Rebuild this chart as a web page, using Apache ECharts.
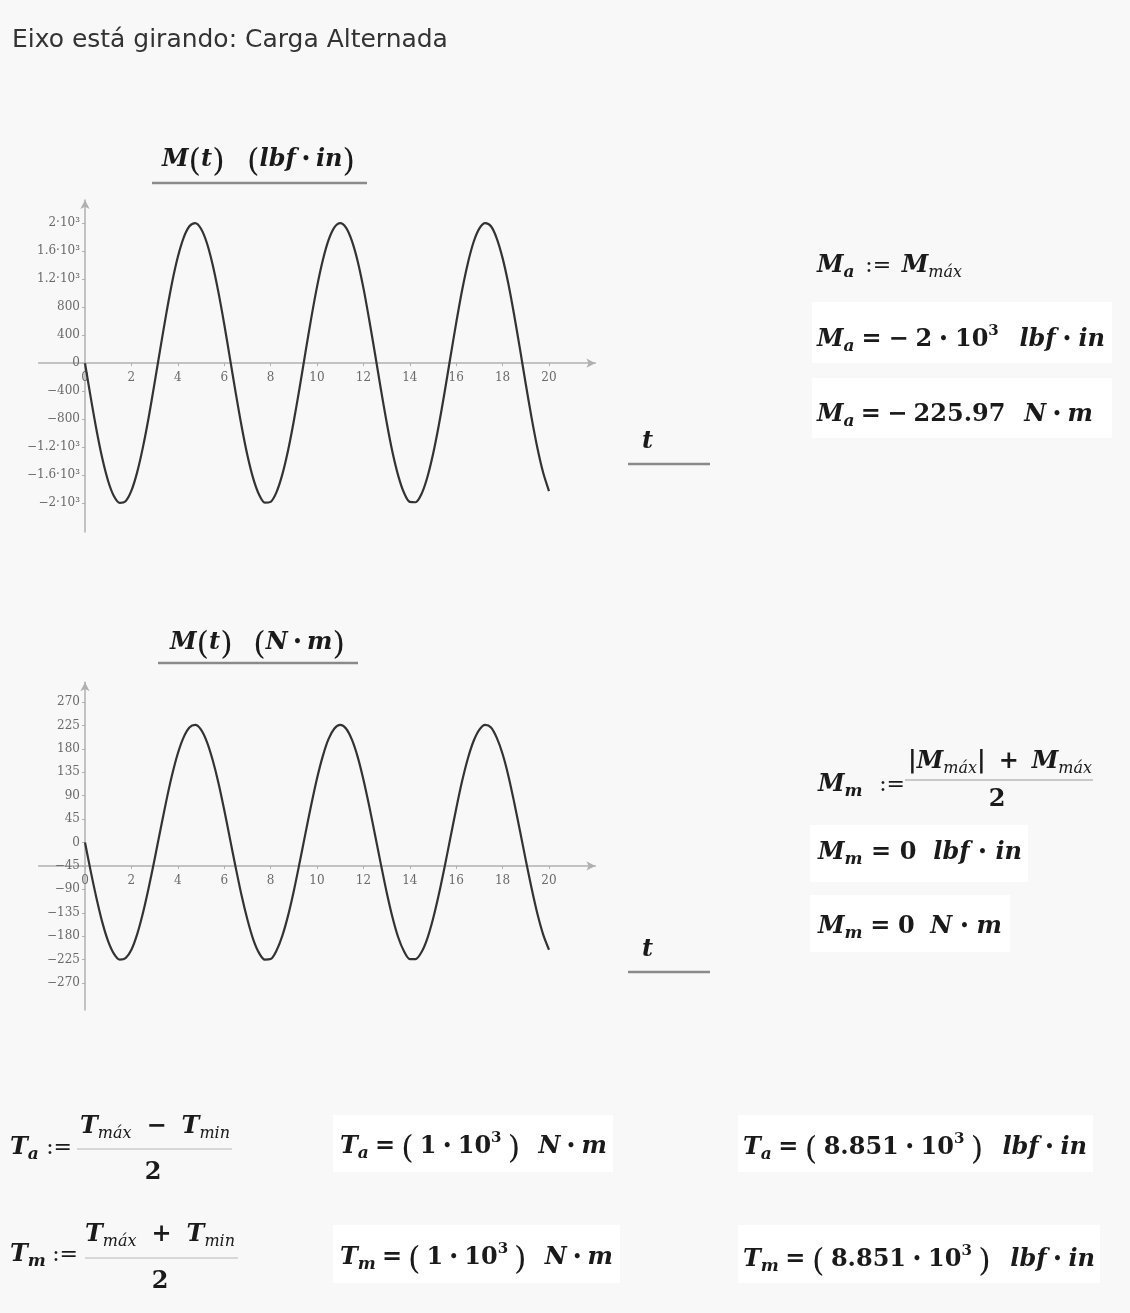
<!DOCTYPE html>
<html><head><meta charset="utf-8">
<script src="https://cdn.jsdelivr.net/npm/echarts@6/dist/echarts.min.js"></script>
<style>html,body{margin:0;padding:0;background:#f8f8f8;}#c{width:1130px;height:1313px;}</style>
</head><body><div id="c"></div>
<script>
// ---------------- data ----------------
const tValues = [0,0.25,0.5,0.75,1,1.25,1.5,1.75,2,2.25,2.5,2.75,3,3.25,3.5,3.75,4,4.25,4.5,4.75,5,5.25,5.5,5.75,6,6.25,6.5,6.75,7,7.25,7.5,7.75,8,8.25,8.5,8.75,9,9.25,9.5,9.75,10,10.25,10.5,10.75,11,11.25,11.5,11.75,12,12.25,12.5,12.75,13,13.25,13.5,13.75,14,14.25,14.5,14.75,15,15.25,15.5,15.75,16,16.25,16.5,16.75,17,17.25,17.5,17.75,18,18.25,18.5,18.75,19,19.25,19.5,19.75,20];
const momentLbfIn = [0,-495,-960,-1365,-1685,-1900,-1995,-1970,-1820,-1555,
  -1195,-765,-280,215,700,1145,1515,1790,1955,2000,
  1920,1720,1410,1015,560,65,-430,-900,-1315,-1645,
  -1875,-1990,-1980,-1845,-1595,-1250,-825,-350,150,640,
  1090,1470,1760,1940,2000,1935,1750,1460,1075,620,
  135,-365,-840,-1265,-1605,-1850,-1980,-1985,-1870,-1635,
  -1300,-885,-415,85,575,1035,1425,1730,1925,2000,
  1955,1780,1500,1130,685,200,-300,-780,-1210,-1565,
  -1825];
const momentNm = [0,-56,-108,-154,-190,-214,-225,-222,-206,-176,
  -135,-86,-32,24,79,129,171,202,221,226,
  217,194,159,115,63,7,-49,-102,-148,-186,
  -212,-225,-224,-208,-180,-141,-93,-39,17,72,
  123,166,199,219,226,219,198,165,121,70,
  15,-41,-95,-143,-182,-209,-224,-224,-211,-185,
  -147,-100,-47,9,65,117,161,195,217,226,
  221,201,170,128,77,22,-34,-88,-137,-177,
  -206];
const xTicks = [0,2,4,6,8,10,12,14,16,18,20];
const yTicksLbf = [-2000,-1600,-1200,-800,-400,0,400,800,1200,1600,2000];
const yTickLabelsLbf = ['−2·10³','−1.6·10³','−1.2·10³','−800','−400','0','400','800','1.2·10³','1.6·10³','2·10³'];
const yTicksNm = [-270,-225,-180,-135,-90,-45,0,45,90,135,180,225,270];
const yTickLabelsNm = ['−270','−225','−180','−135','−90','−45','0','45','90','135','180','225','270'];
const xAxisCrossNm = -45;   // value where the horizontal axis crosses in the N·m plot

// ---------------- layout ----------------
const SERIF = '"DejaVu Serif", serif';
const AX = '#b0b0b0';
const INK = '#1a1a1a';
const XMIN = -2, XMAX = 22;
const G1 = {left:38.6, top:200, width:556.8, height:332, ymin:-2410, ymax:2330, cross:0};
const G2 = {left:38.6, top:682.2, width:556.8, height:327.9, ymin:-322, ymax:308, cross:xAxisCrossNm};

function xAxisCfg(gi, g){
  const yCross = g.top + (g.ymax - g.cross)/(g.ymax - g.ymin)*g.height;
  const off = -(g.top + g.height - yCross);
  return {type:'value', gridIndex:gi, min:XMIN, max:XMAX, interval:2, position:'bottom', offset:off,
    axisLine:{show:true, onZero:false, symbol:['none','arrow'], symbolSize:[7,9],
      lineStyle:{color:AX, width:1.5}},
    axisTick:{show:true, customValues:xTicks, length:3, lineStyle:{color:AX, width:1}},
    axisLabel:{show:true, customValues:xTicks, margin:9, fontFamily:SERIF, fontSize:12, color:'#6a6a6a',
      formatter:(v)=> (v<0||v>20)?'':String(v)},
    splitLine:{show:false}};
}
function yAxisCfg(gi, g, ticks, labels){
  const xZero = g.left + (0 - XMIN)/(XMAX - XMIN)*g.width;
  const off = -(xZero - g.left);
  return {type:'value', gridIndex:gi, min:g.ymin, max:g.ymax, position:'left', offset:off,
    axisLine:{show:true, onZero:false, symbol:['none','arrow'], symbolSize:[7,9],
      lineStyle:{color:AX, width:1.5}},
    axisTick:{show:true, customValues:ticks, length:3, lineStyle:{color:AX, width:1}},
    axisLabel:{show:true, customValues:ticks, margin:5, fontFamily:SERIF, fontSize:12, color:'#6a6a6a',
      formatter:(v)=>{const i=ticks.indexOf(v); return i<0?'':labels[i];}},
    splitLine:{show:false}};
}

// ---------------- text layout helpers ----------------
const K = {
  V:{size:24, weight:'bold', style:'italic', dy:0},
  N:{size:24, weight:'bold', style:'normal', dy:0},
  O:{size:24, weight:'bold', style:'normal', dy:0},
  D:{size:14, weight:'bold', style:'normal', dy:-3},
  A:{size:22, weight:'normal', style:'normal', dy:0},
  B:{size:17, weight:'bold', style:'italic', dy:5},
  S:{size:16, weight:'normal', style:'italic', dy:5},
  U:{size:15, weight:'bold', style:'normal', dy:-11},
  P:{size:32, weight:'normal', style:'normal', dy:5},
  H:{size:20, weight:'normal', style:'normal', dy:0, family:'"DejaVu Sans", sans-serif', fill:'#333'}
};
const cv = document.createElement('canvas').getContext('2d');
function fontStr(k){return k.style+' '+k.weight+' '+k.size+'px '+(k.family||SERIF);}
function measure(text,k){cv.font=fontStr(k); cv.textBaseline='alphabetic'; return cv.measureText(text).width;}
function midOffset(k){
  cv.font=fontStr(k);
  cv.textBaseline='middle'; const a=cv.measureText('M').actualBoundingBoxDescent;
  cv.textBaseline='alphabetic'; const b=cv.measureText('M').actualBoundingBoxDescent;
  return a-b;
}
const gfx = [];
function addText(text,k,x,baseline){
  gfx.push({type:'text', x:x, y:baseline-midOffset(k), silent:true, z:10,
    style:{text:text, fontSize:k.size, fontWeight:k.weight, fontStyle:k.style, fontFamily:k.family||SERIF,
      fill:k.fill||INK, align:'left', verticalAlign:'middle'}});
}
function eqn(x0, base, toks, right){
  const items = toks.map(t=> typeof t==='number' ? {gap:t} : {text:t[0], k:K[t[1]], w:measure(t[0],K[t[1]])});
  let textW=0, gapW=0;
  items.forEach(it=>{ if(it.gap!=null) gapW+=it.gap; else textW+=it.w; });
  let s=1;
  if(right!=null && gapW>0) s=Math.max(0,(right-x0-textW)/gapW);
  let x=x0;
  items.forEach(it=>{ if(it.gap!=null) x+=it.gap*s; else {addText(it.text,it.k,x,base+it.k.dy); x+=it.w;} });
}
function centered(cx, base, text, kk){ const k=K[kk]; addText(text,k,cx-measure(text,k)/2,base); }
function hline(x1,x2,y,color,w){ gfx.push({type:'line', silent:true, z:9, shape:{x1:x1,y1:y,x2:x2,y2:y}, style:{stroke:color, lineWidth:w}}); }
function box(x,y,w,h){ gfx.push({type:'rect', silent:true, z:1, shape:{x:x,y:y,width:w,height:h}, style:{fill:'#ffffff'}}); }

// white result boxes
box(812,302,300,61); box(812,378,300,60);
box(810,825,218,57); box(810,895,200,57);
box(333,1115,280,57); box(333,1225,287,58);
box(738,1115,355,57); box(738,1225,362,58);

// header
(function(){
  const txt='Eixo está girando: Carga Alternada';
  const w=measure(txt,K.H); K.H.size = K.H.size*436/w;
  addText(txt,K.H,12,47);
})();

const DOT = '•';
// plot titles
eqn(162,166,[['M','V'],['(','P'],['t','V'],[')','P'],4,['(','P'],['lbf','V'],1,[DOT,'D'],1,['in','V'],[')','P']],355);
hline(152,367,183,'#8a8a8a',2.5);
eqn(170,649,[['M','V'],['(','P'],['t','V'],[')','P'],4,['(','P'],['N','V'],1,[DOT,'D'],1,['m','V'],[')','P']],345);
hline(158,358,663,'#8a8a8a',2.5);
// axis variable labels
eqn(642,448,[['t','V']]); hline(628,710,464,'#8a8a8a',2.5);
eqn(642,956,[['t','V']]); hline(628,710,972,'#8a8a8a',2.5);

// M_a block
eqn(817,272,[['M','V'],['a','B'],1,[':=','A'],1,['M','V'],['máx','S']],962);
eqn(817,346,[['M','V'],['a','B'],1,['=','O'],1,['−','O'],1,['2','N'],1,[DOT,'D'],1,['10','N'],['3','U'],3,['lbf','V'],1,[DOT,'D'],1,['in','V']],1105);
eqn(817,421,[['M','V'],['a','B'],1,['=','O'],1,['−','O'],1,['225.97','N'],3,['N','V'],1,[DOT,'D'],1,['m','V']],1093);

// M_m block
eqn(818,791,[['M','V'],['m','B'],1,[':=','A']],905);
eqn(908,768,[['|','O'],['M','V'],['máx','S'],['|','O'],1,['+','O'],1,['M','V'],['máx','S']],1092);
hline(905,1093,780,'#9a9a9a',1.2);
centered(997,806,'2','N');
eqn(818,859,[['M','V'],['m','B'],1,['=','O'],1,['0','N'],2,['lbf','V'],1,[DOT,'D'],1,['in','V']],1022);
eqn(818,933,[['M','V'],['m','B'],1,['=','O'],1,['0','N'],2,['N','V'],1,[DOT,'D'],1,['m','V']],1002);

// T block definitions
eqn(10,1154,[['T','V'],['a','B'],1,[':=','A']],72);
eqn(80,1133,[['T','V'],['máx','S'],1,['−','O'],1,['T','V'],['min','S']],230);
hline(77,232,1149,'#b5b5b5',1.2);
centered(153,1179,'2','N');
eqn(10,1261,[['T','V'],['m','B'],1,[':=','A']],78);
eqn(85,1241,[['T','V'],['máx','S'],1,['+','O'],1,['T','V'],['min','S']],235);
hline(85,238,1258,'#b5b5b5',1.2);
centered(160,1288,'2','N');

// T results
eqn(340,1153,[['T','V'],['a','B'],1,['=','O'],1,['(','P'],1,['1','N'],1,[DOT,'D'],1,['10','N'],['3','U'],1,[')','P'],3,['N','V'],1,[DOT,'D'],1,['m','V']],607);
eqn(340,1264,[['T','V'],['m','B'],1,['=','O'],1,['(','P'],1,['1','N'],1,[DOT,'D'],1,['10','N'],['3','U'],1,[')','P'],3,['N','V'],1,[DOT,'D'],1,['m','V']],613);
eqn(743,1154,[['T','V'],['a','B'],1,['=','O'],1,['(','P'],1,['8.851','N'],1,[DOT,'D'],1,['10','N'],['3','U'],1,[')','P'],3,['lbf','V'],1,[DOT,'D'],1,['in','V']],1087);
eqn(743,1266,[['T','V'],['m','B'],1,['=','O'],1,['(','P'],1,['8.851','N'],1,[DOT,'D'],1,['10','N'],['3','U'],1,[')','P'],3,['lbf','V'],1,[DOT,'D'],1,['in','V']],1095);

// ---------------- chart ----------------
const chart = echarts.init(document.getElementById('c'), null, {renderer:'canvas'});
chart.setOption({
  animation:false,
  backgroundColor:'#f8f8f8',
  grid:[
    {left:G1.left, top:G1.top, width:G1.width, height:G1.height, containLabel:false, outerBoundsMode:'none'},
    {left:G2.left, top:G2.top, width:G2.width, height:G2.height, containLabel:false, outerBoundsMode:'none'}
  ],
  xAxis:[ xAxisCfg(0, G1), xAxisCfg(1, G2) ],
  yAxis:[ yAxisCfg(0, G1, yTicksLbf, yTickLabelsLbf), yAxisCfg(1, G2, yTicksNm, yTickLabelsNm) ],
  series:[
    {type:'line', xAxisIndex:0, yAxisIndex:0, data:tValues.map((t,i)=>[t,momentLbfIn[i]]),
      showSymbol:false, smooth:0.3, silent:true, lineStyle:{color:'#333', width:2.2, join:'round'}},
    {type:'line', xAxisIndex:1, yAxisIndex:1, data:tValues.map((t,i)=>[t,momentNm[i]]),
      showSymbol:false, smooth:0.3, silent:true, lineStyle:{color:'#333', width:2.2, join:'round'}}
  ],
  graphic:{elements:gfx}
});
</script>
</body></html>
